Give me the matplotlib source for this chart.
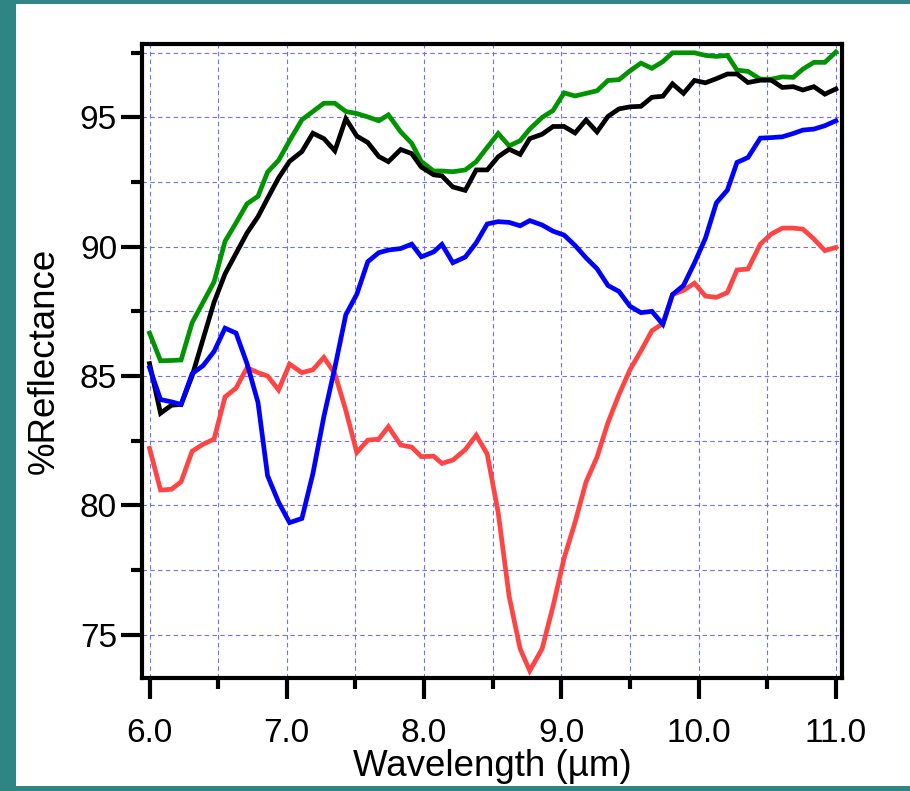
# -*- coding: UTF-8 -*-
# Reflectance spectra, 6 - 11 um, four samples


# Libraries
import matplotlib
matplotlib.use('Agg')
import matplotlib.pyplot as plt
from matplotlib.patches import Rectangle
from matplotlib.ticker import MultipleLocator


# Data
wavelength = [6.00, 6.08, 6.16, 6.23, 6.31, 6.39, 6.47, 6.55, 6.63, 6.71, 6.79, 6.86, 6.94, 7.02,
              7.11, 7.19, 7.27, 7.35, 7.43, 7.51, 7.59, 7.67, 7.74, 7.83, 7.91, 7.98, 8.07,
              8.13, 8.21, 8.30, 8.38, 8.46, 8.54, 8.62, 8.70, 8.77, 8.86, 8.94, 9.02,
              9.10, 9.18, 9.26, 9.34, 9.42, 9.50, 9.58, 9.66, 9.74, 9.81, 9.89, 9.97, 10.05,
              10.13, 10.21, 10.28, 10.36, 10.45, 10.53, 10.61, 10.69, 10.76, 10.84, 10.92, 11.00]
refl_green = [86.66, 85.59, 85.60, 85.62, 87.06, 87.85, 88.64, 90.21, 90.92, 91.66, 91.95, 92.89, 93.34, 94.10,
              94.91, 95.23, 95.55, 95.55, 95.23, 95.15, 95.02, 94.87, 95.10, 94.44, 94.00, 93.29, 92.93,
              92.93, 92.90, 92.97, 93.29, 93.84, 94.38, 93.90, 94.10, 94.55, 95.00, 95.27, 95.95,
              95.83, 95.93, 96.03, 96.43, 96.46, 96.80, 97.10, 96.90, 97.16, 97.50, 97.50, 97.50, 97.40,
              97.36, 97.40, 96.83, 96.78, 96.48, 96.48, 96.57, 96.55, 96.87, 97.13, 97.13, 97.53]
refl_black = [85.48, 83.56, 83.87, 83.90, 85.00, 86.43, 87.85, 88.95, 89.74, 90.53, 91.16, 91.87, 92.66, 93.30,
              93.68, 94.39, 94.18, 93.71, 94.95, 94.28, 94.03, 93.49, 93.29, 93.76, 93.60, 93.08, 92.78,
              92.74, 92.31, 92.18, 92.97, 92.97, 93.48, 93.77, 93.57, 94.18, 94.35, 94.65, 94.65,
              94.40, 94.90, 94.44, 95.04, 95.33, 95.41, 95.43, 95.78, 95.82, 96.30, 95.93, 96.43, 96.34,
              96.50, 96.68, 96.68, 96.35, 96.44, 96.44, 96.16, 96.19, 96.06, 96.19, 95.90, 96.10]
refl_blue = [85.32, 84.09, 84.00, 83.90, 85.09, 85.40, 85.95, 86.85, 86.66, 85.48, 83.98, 81.14, 80.12, 79.33,
             79.49, 81.22, 83.43, 85.32, 87.37, 88.16, 89.42, 89.77, 89.87, 89.93, 90.10, 89.61, 89.80,
             90.09, 89.38, 89.60, 90.15, 90.88, 90.97, 90.94, 90.81, 91.01, 90.84, 90.60, 90.45,
             90.05, 89.57, 89.15, 88.50, 88.27, 87.70, 87.45, 87.50, 87.00, 88.15, 88.50, 89.37, 90.33,
             91.70, 92.19, 93.26, 93.45, 94.20, 94.22, 94.25, 94.38, 94.51, 94.55, 94.68, 94.87]
refl_red = [82.20, 80.59, 80.62, 80.91, 82.09, 82.36, 82.56, 84.19, 84.53, 85.32, 85.13, 85.00, 84.46, 85.46,
            85.13, 85.24, 85.72, 85.09, 83.67, 82.04, 82.52, 82.56, 83.04, 82.33, 82.25, 81.88, 81.90,
            81.62, 81.75, 82.15, 82.71, 81.98, 79.72, 76.47, 74.45, 73.60, 74.45, 76.10, 77.95,
            79.34, 80.90, 81.86, 83.20, 84.28, 85.24, 85.97, 86.75, 87.03, 88.15, 88.31, 88.59, 88.09,
            88.04, 88.23, 89.10, 89.14, 90.10, 90.49, 90.72, 90.72, 90.68, 90.30, 89.85, 89.97]
x_ticks = [6.0, 7.0, 8.0, 9.0, 10.0, 11.0]
x_tick_labels = ['6.0', '7.0', '8.0', '9.0', '10.0', '11.0']
y_ticks = [75, 80, 85, 90, 95]


# General settings
plt.rcParams['font.family'] = ['Liberation Sans', 'DejaVu Sans']
line_w = 3.4
teal = '#2e8584'
grid_color = '#6f6ffb'


# Figure with the teal slide border and the white panel
fig = plt.figure(figsize=(9.10, 7.91), dpi=100, facecolor=teal)
fig.patches.append(Rectangle((16 / 910, 1 - 786 / 791), 1 - 16 / 910, 782 / 791,
                             transform=fig.transFigure, facecolor='white', edgecolor='none', zorder=-10))
ax = fig.add_axes([142 / 910, 1 - 678 / 791, 700 / 910, 634 / 791])
ax.set_facecolor('white')

# Curves
ax.plot(wavelength, refl_green, color='#009400', lw=line_w, solid_joinstyle='miter', zorder=3)
ax.plot(wavelength, refl_black, color='black', lw=line_w, solid_joinstyle='miter', zorder=3)
ax.plot(wavelength, refl_red, color='#ff4444', lw=line_w, solid_joinstyle='miter', zorder=3)
ax.plot(wavelength, refl_blue, color='#0000ff', lw=line_w, solid_joinstyle='miter', zorder=3)

# Axes
ax.set_xlim(5.945, 11.045)
ax.set_ylim(73.32, 97.84)
ax.set_xticks(x_ticks)
ax.set_xticklabels(x_tick_labels)
ax.set_yticks(y_ticks)
ax.xaxis.set_minor_locator(MultipleLocator(0.5))
ax.yaxis.set_minor_locator(MultipleLocator(2.5))
ax.tick_params(which='both', direction='out', width=3, top=False, right=False, labelsize=24)
ax.tick_params(which='major', length=15)
ax.tick_params(which='minor', length=8)
ax.tick_params(axis='x', which='major', pad=14)
ax.tick_params(axis='y', which='major', pad=3)
for side in ['left', 'bottom', 'top', 'right']:
    ax.spines[side].set_linewidth(3)
    ax.spines[side].set_zorder(4)
ax.grid(which='both', color=grid_color, linestyle=(0, (4, 3)), linewidth=0.8, zorder=1)
ax.set_axisbelow(True)
ax.set_xlabel('Wavelength (\u00b5m)', fontsize=26.5, labelpad=0)
ax.set_ylabel('%Reflectance', fontsize=26.5, labelpad=13)

plt.savefig('out.png', dpi=100, facecolor=teal)
plt.close('all')
